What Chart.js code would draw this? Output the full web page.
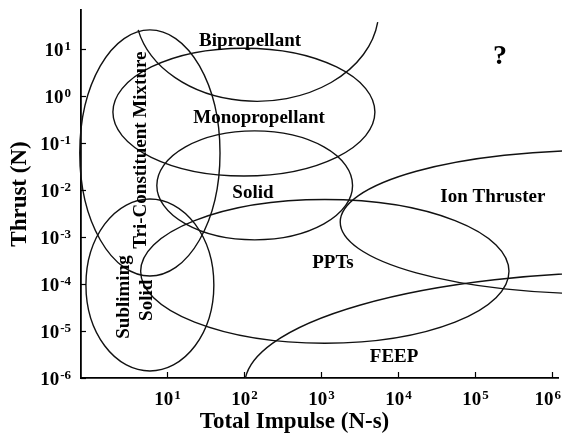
<!DOCTYPE html>
<html>
<head>
<meta charset="utf-8">
<script src="https://cdn.jsdelivr.net/npm/chart.js@4.4.0/dist/chart.umd.min.js"></script>
<style>
  body { margin: 0; background: #fff; }
</style>
</head>
<body>
<canvas id="myChart" width="563" height="436"></canvas>
<script>
// tick values on the two log axes
const xTicks = [1e1, 1e2, 1e3, 1e4, 1e5, 1e6];
const yTicks = [1e-6, 1e-5, 1e-4, 1e-3, 1e-2, 1e-1, 1e0, 1e1];

// propulsion regions: ellipse centre (log10) and half-widths in decades
const regions = ["Tri-Constituent Mixture", "Bipropellant", "Monopropellant", "Solid", "Subliming Solid", "Ion Thruster", "PPTs", "FEEP"];
const centerImpulseExp = [0.78, 2.17, 2.0, 2.14, 0.78, 6.62, 3.05, 7.14];
const centerThrustExp = [-1.21, 1.83, -0.34, -1.9, -4.02, -2.68, -3.73, -6.15];
const spanImpulse = [0.91, 1.58, 1.7, 1.27, 0.83, 3.37, 2.39, 5.13];
const spanThrust = [2.62, 1.94, 1.36, 1.16, 1.83, 1.53, 1.53, 2.41];
// bipropellant is only an open arc under the top of the plot
const arcStart = [0, 7.5, 0, 0, 0, 0, 0, 0];
const arcEnd = [360, 167.5, 360, 360, 360, 360, 360, 360];

// region names written on the plot
const labelText = ["Bipropellant", "Monopropellant", "Solid", "Ion Thruster", "PPTs", "FEEP", "?", "Tri-Constituent Mixture", "Subliming", "Solid"];
const labelImpulse = [120, 157, 131, 1.7e5, 1430, 8900, 2.1e5, 4.6, 2.8, 5.5];
const labelThrust = [15, 0.34, 0.0086, 0.0071, 2.8e-4, 2.8e-6, 6.8, 0.071, 5.3e-5, 4.5e-5];
const labelAngle = [0, 0, 0, 0, 0, 0, 0, -90, -90, -90];

const serif = "'Liberation Serif', 'Times New Roman', serif";
const font = (size) => `bold ${size}px ${serif}`;

const drawPower = (ctx, exp, x, y, align, maxRight) => {
  // "10" with a raised exponent
  ctx.font = font(19);
  const base = ctx.measureText("10").width;
  ctx.font = font(13);
  const sup = String(exp);
  const supW = ctx.measureText(sup).width;
  const total = base + supW + 1;
  let left = x - total / 2;
  if (align === "right") left = x - total;
  if (maxRight && left + total > maxRight) left = maxRight - total;
  ctx.textAlign = "left";
  ctx.textBaseline = "alphabetic";
  ctx.font = font(19);
  ctx.fillText("10", left, y);
  ctx.font = font(13);
  ctx.fillText(sup, left + base + 1, y - 6);
};

const regionPlugin = {
  id: "regions",
  afterDraw(chart) {
    const { ctx, chartArea: a } = chart;
    const xs = chart.scales.x;
    const ys = chart.scales.y;

    ctx.save();
    ctx.beginPath();
    ctx.rect(a.left - 2, a.top, a.right - a.left + 6, a.bottom - a.top);
    ctx.clip();
    ctx.strokeStyle = "#111";
    ctx.lineWidth = 1.4;
    regions.forEach((name, i) => {
      const cx = xs.getPixelForValue(10 ** centerImpulseExp[i]);
      const cy = ys.getPixelForValue(10 ** centerThrustExp[i]);
      const rx = xs.getPixelForValue(10 ** (centerImpulseExp[i] + spanImpulse[i])) - cx;
      const ry = cy - ys.getPixelForValue(10 ** (centerThrustExp[i] + spanThrust[i]));
      ctx.beginPath();
      ctx.ellipse(cx, cy, rx, ry, 0, (arcStart[i] * Math.PI) / 180, (arcEnd[i] * Math.PI) / 180);
      ctx.stroke();
    });
    ctx.restore();

    ctx.save();
    ctx.fillStyle = "#000";
    labelText.forEach((text, i) => {
      const px = xs.getPixelForValue(labelImpulse[i]);
      const py = ys.getPixelForValue(labelThrust[i]);
      ctx.save();
      ctx.translate(px, py);
      ctx.rotate((labelAngle[i] * Math.PI) / 180);
      ctx.font = font(text === "?" ? 28 : 19);
      ctx.textAlign = "center";
      ctx.textBaseline = "middle";
      ctx.fillText(text, 0, 0);
      ctx.restore();
    });

    // inward tick marks
    ctx.strokeStyle = "#000";
    ctx.lineWidth = 1.2;
    xTicks.forEach((v) => {
      const px = Math.round(xs.getPixelForValue(v)) + 0.5;
      ctx.beginPath();
      ctx.moveTo(px, a.bottom);
      ctx.lineTo(px, a.bottom - 6);
      ctx.stroke();
      drawPower(ctx, Math.round(Math.log10(v)), px, a.bottom + 27, "center", chart.width - 2);
    });
    yTicks.forEach((v) => {
      const py = Math.round(ys.getPixelForValue(v)) + 0.5;
      ctx.beginPath();
      ctx.moveTo(a.left, py);
      ctx.lineTo(a.left + 5, py);
      ctx.stroke();
      drawPower(ctx, Math.round(Math.log10(v)), a.left - 10, py + 6, "right");
    });

    // x axis title sits a bit left of the middle
    ctx.font = font(23);
    ctx.textAlign = "center";
    ctx.textBaseline = "middle";
    ctx.fillText("Total Impulse (N-s)", (a.left + a.right) / 2 - 25, chart.height - 14);
    ctx.restore();
  },
};

const ctx = document.getElementById("myChart").getContext("2d");
const chart = new Chart(ctx, {
  type: "scatter",
  data: { datasets: [] },
  options: {
    responsive: false,
    animation: false,
    devicePixelRatio: 1,
    layout: { padding: { top: 10, right: 5, left: 0, bottom: 0 } },
    plugins: { legend: { display: false }, tooltip: { enabled: false } },
    scales: {
      x: {
        type: "logarithmic",
        position: "bottom",
        min: 10 ** -0.114,
        max: 10 ** 6.076,
        afterBuildTicks: (s) => {
          s.ticks = xTicks.map((v) => ({ value: v }));
        },
        afterFit: (s) => {
          s.height = 58;
        },
        ticks: { display: false },
        grid: { display: true, drawOnChartArea: false, drawTicks: false },
        border: { display: true, color: "#000", width: 1.8 },
      },
      y: {
        type: "logarithmic",
        position: "left",
        min: 1e-6,
        max: 10 ** 1.834,
        afterBuildTicks: (s) => {
          s.ticks = yTicks.map((v) => ({ value: v }));
        },
        afterFit: (s) => {
          s.width = 81;
        },
        ticks: { display: false },
        grid: { display: true, drawOnChartArea: false, drawTicks: false },
        border: { display: true, color: "#000", width: 1.8 },
        title: {
          display: true,
          text: "Thrust (N)",
          color: "#000",
          font: { family: serif, size: 23, weight: "bold" },
          padding: { top: 6, bottom: 0 },
        },
      },
    },
  },
  plugins: [regionPlugin],
});
</script>
</body>
</html>
